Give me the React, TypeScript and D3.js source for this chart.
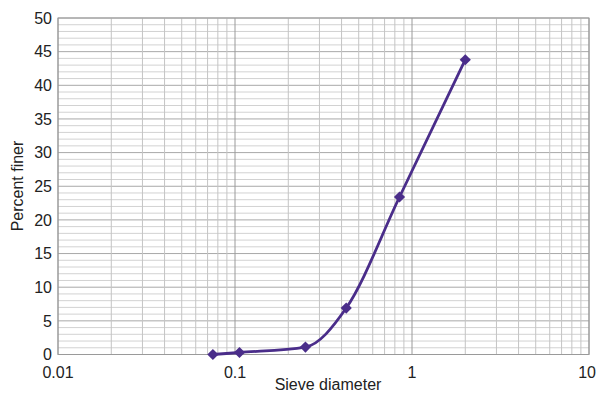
import React, { useRef, useEffect } from "react";
import * as d3 from "d3";

// sieve sizes (mm) and percent finer
const sieveSizes = [0.075, 0.106, 0.25, 0.425, 0.85, 2.0];
const percentFiner = [0, 0.3, 1.1, 6.9, 23.4, 43.8];
const xTickValues = [0.01, 0.1, 1, 10];
const yTickValues = [0, 5, 10, 15, 20, 25, 30, 35, 40, 45, 50];

export default function App() {
  const ref = useRef<SVGSVGElement>(null);

  useEffect(() => {
    const width = 596;
    const height = 393;
    const margin = { top: 18, right: 7, bottom: 38.5, left: 58 };

    const svg = d3.select(ref.current).html("");
    svg.attr("width", width).attr("height", height);

    const x = d3
      .scaleLog()
      .domain([0.01, 10])
      .range([margin.left, width - margin.right]);
    const y = d3
      .scaleLinear()
      .domain([0, 50])
      .range([height - margin.bottom, margin.top]);

    const g = svg.append("g");

    // horizontal grid - every 1 unit, darker every 5
    d3.range(0, 51).forEach((v) => {
      g.append("line")
        .attr("x1", x(0.01))
        .attr("x2", x(10))
        .attr("y1", y(v))
        .attr("y2", y(v))
        .attr("stroke", v % 5 === 0 ? "#a8a8a8" : "#d2d2d2")
        .attr("stroke-width", 1);
    });

    // vertical log grid
    const minor: number[] = [];
    [0.01, 0.1, 1].forEach((d) => {
      for (let k = 2; k <= 9; k++) minor.push(d * k);
    });
    minor.forEach((v) => {
      g.append("line")
        .attr("x1", x(v))
        .attr("x2", x(v))
        .attr("y1", y(0))
        .attr("y2", y(50))
        .attr("stroke", "#c4c4c4")
        .attr("stroke-width", 1);
    });
    xTickValues.forEach((v) => {
      g.append("line")
        .attr("x1", x(v))
        .attr("x2", x(v))
        .attr("y1", y(0))
        .attr("y2", y(50))
        .attr("stroke", "#9a9a9a")
        .attr("stroke-width", 1);
    });

    // border
    g.append("rect")
      .attr("x", x(0.01))
      .attr("y", y(50))
      .attr("width", x(10) - x(0.01))
      .attr("height", y(0) - y(50))
      .attr("fill", "none")
      .attr("stroke", "#9a9a9a");

    const font = "Liberation Sans, Arial, sans-serif";

    // tick labels
    g.selectAll(".ytick")
      .data(yTickValues)
      .enter()
      .append("text")
      .attr("x", margin.left - 6)
      .attr("y", (d) => y(d))
      .attr("dy", "0.36em")
      .attr("text-anchor", "end")
      .attr("font-family", font)
      .attr("font-size", 16)
      .attr("fill", "#222")
      .text((d) => d);

    g.selectAll(".xtick")
      .data(xTickValues)
      .enter()
      .append("text")
      .attr("x", (d) => (d === 10 ? width : x(d)))
      .attr("y", y(0) + 23)
      .attr("text-anchor", (d) => (d === 10 ? "end" : "middle"))
      .attr("font-family", font)
      .attr("font-size", 16)
      .attr("fill", "#222")
      .text((d) => String(d));

    // axis titles
    g.append("text")
      .attr("x", 328)
      .attr("y", 390)
      .attr("text-anchor", "middle")
      .attr("font-family", font)
      .attr("font-size", 16)
      .attr("fill", "#222")
      .text("Sieve diameter");

    g.append("text")
      .attr("transform", `translate(23, 186) rotate(-90)`)
      .attr("text-anchor", "middle")
      .attr("font-family", font)
      .attr("font-size", 16)
      .attr("fill", "#222")
      .text("Percent finer");

    // curve
    const pts = sieveSizes.map((s, i) => [s, percentFiner[i]] as [number, number]);
    const line = d3
      .line<[number, number]>()
      .x((d) => x(d[0]))
      .y((d) => y(d[1]))
      .curve(d3.curveMonotoneX);

    g.append("path")
      .datum(pts)
      .attr("d", line)
      .attr("fill", "none")
      .attr("stroke", "#4a2d8a")
      .attr("stroke-width", 2.8);

    g.selectAll(".pt")
      .data(pts)
      .enter()
      .append("path")
      .attr("d", d3.symbol().type(d3.symbolDiamond2).size(80)() as string)
      .attr("transform", (d) => `translate(${x(d[0])}, ${y(d[1])})`)
      .attr("fill", "#4a2d8a");
  }, []);

  return (
    <svg
      ref={ref}
      style={{ position: "absolute", left: 0, top: 0, background: "#fff" }}
    />
  );
}
